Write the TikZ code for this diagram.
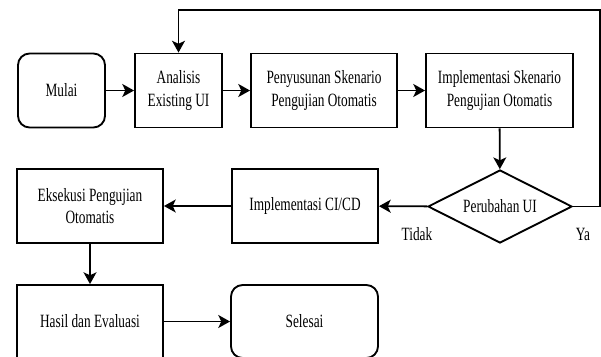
\documentclass[tikz,border=0pt]{standalone}
\usepackage{fontspec}
\setmainfont{Liberation Serif}[FakeStretch=0.71]
\usetikzlibrary{arrows.meta, shapes.geometric}

\begin{document}
\begin{tikzpicture}[x=0.03cm, y=-0.03cm,
    box/.style={draw, line width=1.6pt, align=center, minimum height=2.22cm, inner sep=2pt, font=\fontsize{16}{19}\selectfont},
    ujung/.style={box, rounded corners=0.35cm},
    cabang/.style={draw, line width=1.6pt, diamond, aspect=2, minimum width=4.32cm, minimum height=2.19cm, inner sep=0pt, font=\fontsize{16}{19}\selectfont},
    arr/.style={line width=1.6pt, -{Stealth[length=10pt, width=11pt, inset=2.5pt]}},
    lbl/.style={font=\fontsize{16}{19}\selectfont}]
\clip (0,0) rectangle (601,356);

% baris atas
\node[ujung, minimum width=2.61cm] (mulai) at (61.5,90.5) {Mulai};
\node[box, minimum width=2.61cm] (analisis) at (178.5,90.5) {Analisis\\Existing UI};
\node[box, minimum width=4.38cm] (susun) at (324,90.5) {Penyusunan Skenario\\Pengujian Otomatis};
\node[box, minimum width=4.41cm] (implskn) at (499.5,90.5) {Implementasi Skenario\\Pengujian Otomatis};

% baris tengah
\node[cabang] (ubah) at (500,206.5) {Perubahan UI};
\node[box, minimum width=4.38cm] (cicd) at (305,206) {Implementasi CI/CD};
\node[box, minimum width=4.38cm] (eksekusi) at (90,206) {Eksekusi Pengujian\\Otomatis};

% baris bawah
\node[box, minimum width=4.38cm, minimum height=2.19cm] (hasil) at (90,321.5) {Hasil dan Evaluasi};
\node[ujung, minimum width=4.41cm, minimum height=2.19cm] (selesai) at (304.5,321.5) {Selesai};

\coordinate (balik) at (600,10);

\draw[arr] (mulai) -- (analisis);
\draw[arr] (analisis) -- (susun);
\draw[arr] (susun) -- (implskn);
\draw[arr] (implskn) -- (ubah);
\draw[arr] (ubah) -- (cicd);
\draw[arr] (cicd) -- (eksekusi);
\draw[arr] (eksekusi) -- (hasil);
\draw[arr] (hasil) -- (selesai);
\draw[arr] (ubah.east) -| (balik) -| (analisis.north);

\node[lbl] at (417,234) {Tidak};
\node[lbl] at (583,234) {Ya};

\end{tikzpicture}
\end{document}
